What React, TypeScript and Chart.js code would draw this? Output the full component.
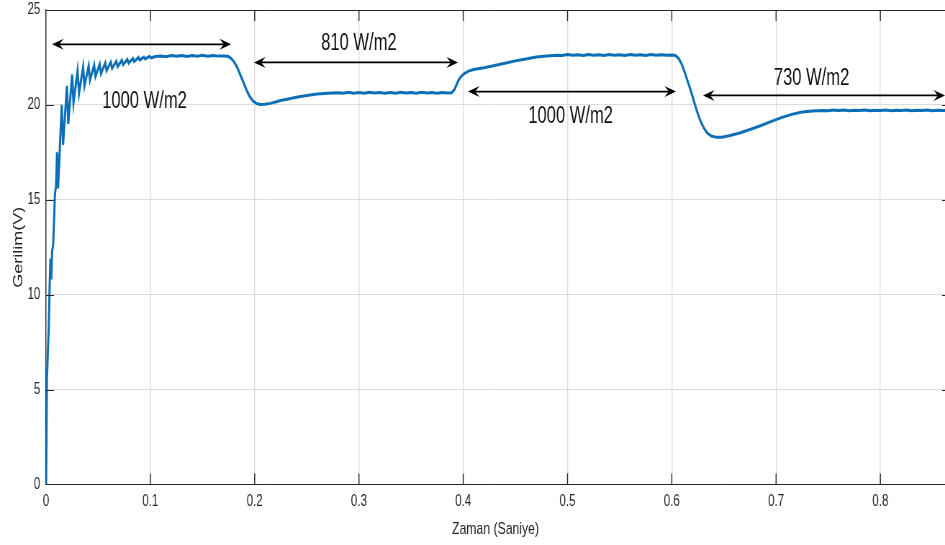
import React, { useEffect, useRef } from 'react';
import { Chart, registerables } from 'chart.js';

Chart.register(...registerables);

// ---------- data (time in s, voltage in V) ----------
const startupTimes = [0, 0.0008, 0.0025, 0.0035, 0.0042, 0.005, 0.0058, 0.0068, 0.0085, 0.0095];
const startupVolts = [0, 5.5, 8.2, 10.6, 11.9, 10.8, 12.3, 12.6, 15.3, 15.7];

const rippleTimes = [0.0105, 0.0115, 0.015, 0.0163, 0.02, 0.0213, 0.025, 0.0263, 0.0302, 0.0316, 0.0355, 0.0368, 0.0408, 0.0421, 0.0461, 0.0474, 0.0514, 0.0527, 0.0567, 0.058, 0.062, 0.0633, 0.0673, 0.0686, 0.0726, 0.0739, 0.0779, 0.0792, 0.0832, 0.0845, 0.0885, 0.0898, 0.0938, 0.0951, 0.099, 0.101];
const rippleVolts = [17.5, 15.6, 20.0, 17.9, 21.0, 19.0, 21.6, 20.1, 21.8, 20.6, 22.0, 21.0, 22.05, 21.3, 22.1, 21.5, 22.15, 21.65, 22.2, 21.8, 22.25, 21.92, 22.3, 22.02, 22.35, 22.12, 22.4, 22.2, 22.45, 22.28, 22.5, 22.36, 22.52, 22.42, 22.55, 22.48];

const plateau1Times = [0.105, 0.11, 0.115, 0.12, 0.125, 0.13, 0.135, 0.14, 0.145, 0.15, 0.155, 0.16, 0.165, 0.17, 0.1745];
const plateau1Volts = [22.55, 22.58, 22.54, 22.6, 22.56, 22.6, 22.55, 22.6, 22.57, 22.61, 22.56, 22.6, 22.57, 22.58, 22.56];

const drop1Times = [0.1775, 0.1805, 0.1835, 0.1865, 0.1895, 0.1925, 0.1955, 0.1985, 0.2015, 0.205, 0.21, 0.215, 0.22, 0.225, 0.231, 0.24, 0.25, 0.26, 0.27, 0.28];
const drop1Volts = [22.45, 22.25, 21.95, 21.55, 21.15, 20.75, 20.42, 20.2, 20.08, 20.02, 20.03, 20.08, 20.15, 20.23, 20.3, 20.4, 20.5, 20.57, 20.62, 20.64];

const plateau2Times = [0.285, 0.29, 0.295, 0.3, 0.305, 0.31, 0.315, 0.32, 0.325, 0.33, 0.335, 0.34, 0.345, 0.35, 0.355, 0.36, 0.365, 0.37, 0.375, 0.38, 0.385, 0.389];
const plateau2Volts = [20.62, 20.66, 20.62, 20.65, 20.62, 20.66, 20.63, 20.65, 20.61, 20.65, 20.62, 20.66, 20.63, 20.65, 20.62, 20.66, 20.63, 20.65, 20.62, 20.65, 20.63, 20.64];

const rise2Times = [0.3915, 0.3935, 0.3955, 0.398, 0.401, 0.405, 0.41, 0.42, 0.43, 0.44, 0.45, 0.46, 0.47, 0.48, 0.49];
const rise2Volts = [20.8, 21.05, 21.3, 21.5, 21.65, 21.78, 21.86, 21.96, 22.08, 22.2, 22.32, 22.42, 22.52, 22.58, 22.62];

const plateau3Times = [0.495, 0.5, 0.505, 0.51, 0.515, 0.52, 0.525, 0.53, 0.535, 0.54, 0.545, 0.55, 0.555, 0.56, 0.565, 0.57, 0.575, 0.58, 0.585, 0.59, 0.595, 0.6, 0.6035];
const plateau3Volts = [22.6, 22.65, 22.61, 22.64, 22.6, 22.65, 22.62, 22.64, 22.6, 22.65, 22.61, 22.64, 22.6, 22.65, 22.62, 22.64, 22.6, 22.65, 22.61, 22.64, 22.62, 22.63, 22.6];

const drop2Times = [0.6065, 0.6095, 0.6125, 0.6155, 0.6185, 0.6215, 0.6245, 0.6275, 0.6305, 0.634, 0.638, 0.643, 0.648, 0.655, 0.665, 0.675, 0.685, 0.695, 0.705, 0.715, 0.725, 0.735, 0.745];
const drop2Volts = [22.45, 22.15, 21.7, 21.2, 20.7, 20.15, 19.6, 19.15, 18.8, 18.52, 18.36, 18.29, 18.3, 18.38, 18.52, 18.7, 18.9, 19.12, 19.33, 19.5, 19.62, 19.68, 19.71];

const plateau4Times = [0.75, 0.755, 0.76, 0.765, 0.77, 0.775, 0.78, 0.785, 0.79, 0.795, 0.8, 0.805, 0.81, 0.815, 0.82, 0.825, 0.83, 0.835, 0.84, 0.845, 0.85, 0.855, 0.86, 0.865];
const plateau4Volts = [19.69, 19.73, 19.7, 19.73, 19.69, 19.72, 19.7, 19.73, 19.69, 19.72, 19.7, 19.73, 19.69, 19.72, 19.7, 19.73, 19.69, 19.72, 19.7, 19.73, 19.69, 19.72, 19.7, 19.71];

// annotations (arrows in data coordinates)
const arrowStarts = [0.0058, 0.1994, 0.4046, 0.63];
const arrowEnds = [0.1774, 0.395, 0.604, 0.862];
const arrowLevels = [23.19, 22.24, 20.7, 20.5];

const labelTexts = ['1000 W/m2', '810 W/m2', '1000 W/m2', '730 W/m2'];
const labelTimes = [0.0944, 0.3, 0.503, 0.734];
const labelLevels = [20.18, 23.21, 19.36, 21.36];

const xTitle = 'Zaman (Saniye)';
const yTitle = 'Gerilim(V)';

// ---------- layout ----------
const SX = 0.72; // horizontal squeeze of the reference picture
const VIEW_W = 945;
const VIEW_H = 545;
const CANVAS_W = Math.round(VIEW_W / SX);
const FONT = '"Liberation Sans", Arial, Helvetica, sans-serif';
const AXIS = '#262626';
const GRID = '#dcdcdc';
const LINE = '#0a6fb6';

const segT = [startupTimes, rippleTimes, plateau1Times, drop1Times, plateau2Times, rise2Times, plateau3Times, drop2Times, plateau4Times];
const segV = [startupVolts, rippleVolts, plateau1Volts, drop1Volts, plateau2Volts, rise2Volts, plateau3Volts, drop2Volts, plateau4Volts];

function buildPoints() {
  const pts: { x: number; y: number }[] = [];
  segT.forEach((ts, s) => {
    const vs = segV[s];
    const n = Math.min(ts.length, vs.length);
    for (let i = 0; i < n; i++) pts.push({ x: ts[i], y: vs[i] });
  });
  return pts;
}

const decorPlugin = {
  id: 'decor',
  afterDatasetsDraw(chart: any) {
    const { ctx, chartArea: a, scales } = chart;
    const xs = scales.x;
    const ys = scales.y;
    ctx.save();
    // top frame line
    ctx.strokeStyle = AXIS;
    ctx.lineWidth = 1;
    ctx.beginPath();
    ctx.moveTo(a.left, Math.round(a.top) + 0.5);
    ctx.lineTo(a.right, Math.round(a.top) + 0.5);
    ctx.stroke();
    // inward x ticks (bottom and top)
    ctx.lineWidth = 1.4;
    ctx.beginPath();
    xs.ticks.forEach((t: any) => {
      if (t.value === 0) return;
      const px = xs.getPixelForValue(t.value);
      ctx.moveTo(px, a.bottom);
      ctx.lineTo(px, a.bottom - 11);
      ctx.moveTo(px, a.top);
      ctx.lineTo(px, a.top + 11);
    });
    ctx.stroke();
    // inward y ticks (left and right)
    ctx.lineWidth = 1;
    ctx.beginPath();
    ys.ticks.forEach((t: any) => {
      if (t.value === 0 || t.value === 25) return;
      const py = Math.round(ys.getPixelForValue(t.value)) + 0.5;
      ctx.moveTo(a.left, py);
      ctx.lineTo(a.left + 11, py);
      ctx.moveTo(a.right, py);
      ctx.lineTo(a.right - 4, py);
    });
    ctx.stroke();

    // double arrows
    const L = 16;
    const H = 5.5;
    ctx.strokeStyle = '#000';
    ctx.fillStyle = '#000';
    ctx.lineWidth = 1.6;
    const head = (tipX: number, y: number, dir: number) => {
      ctx.beginPath();
      ctx.moveTo(tipX, y);
      ctx.lineTo(tipX + dir * L, y - H);
      ctx.lineTo(tipX + dir * L * 0.62, y);
      ctx.lineTo(tipX + dir * L, y + H);
      ctx.closePath();
      ctx.fill();
    };
    arrowStarts.forEach((t0, i) => {
      const x0 = xs.getPixelForValue(t0);
      const x1 = xs.getPixelForValue(arrowEnds[i]);
      const y = ys.getPixelForValue(arrowLevels[i]);
      ctx.beginPath();
      ctx.moveTo(x0 + 4, y);
      ctx.lineTo(x1 - 4, y);
      ctx.stroke();
      head(x0, y, 1);
      head(x1, y, -1);
    });

    // labels
    ctx.font = `23px ${FONT}`;
    ctx.fillStyle = '#111';
    ctx.textAlign = 'center';
    ctx.textBaseline = 'middle';
    labelTexts.forEach((txt, i) => {
      ctx.fillText(txt, xs.getPixelForValue(labelTimes[i]), ys.getPixelForValue(labelLevels[i]));
    });
    ctx.restore();
  },
};

export default function App() {
  const ref = useRef<HTMLCanvasElement | null>(null);
  useEffect(() => {
    if (!ref.current) return;
    const chart = new Chart(ref.current, {
      type: 'line',
      data: {
        datasets: [
          {
            data: buildPoints(),
            borderColor: LINE,
            borderWidth: 3,
            pointRadius: 0,
            tension: 0,
            fill: false,
          },
        ],
      },
      options: {
        animation: false,
        responsive: false,
        maintainAspectRatio: false,
        layout: { padding: { top: 10, left: 0, right: 0, bottom: 0 } },
        plugins: { legend: { display: false }, tooltip: { enabled: false } },
        scales: {
          x: {
            type: 'linear',
            min: 0,
            max: 0.862,
            afterFit: (s: any) => {
              s.height = 60.5;
              s.paddingLeft = 0;
              s.paddingRight = 0;
            },
            ticks: {
              stepSize: 0.1,
              includeBounds: false,
              autoSkip: false,
              maxRotation: 0,
              padding: 7,
              color: AXIS,
              font: { family: FONT, size: 16 },
            },
            grid: { color: GRID, lineWidth: 1.4, drawTicks: false },
            border: { display: true, color: AXIS, width: 1 },
            title: {
              display: true,
              text: xTitle,
              color: AXIS,
              font: { family: FONT, size: 17 },
              padding: { top: 0, bottom: 5 },
            },
          },
          y: {
            type: 'linear',
            min: 0,
            max: 25,
            afterFit: (s: any) => {
              s.width = 64;
              s.paddingTop = 0;
              s.paddingBottom = 0;
            },
            ticks: {
              stepSize: 5,
              padding: 8,
              color: AXIS,
              font: { family: FONT, size: 16 },
            },
            grid: { color: GRID, lineWidth: 1, drawTicks: false },
            border: { display: true, color: AXIS, width: 1.4 },
            title: {
              display: true,
              text: yTitle,
              color: AXIS,
              font: { family: FONT, size: 18 },
              padding: { top: 15, bottom: 0 },
            },
          },
        },
      },
      plugins: [decorPlugin],
    });
    return () => chart.destroy();
  }, []);

  return (
    <div style={{ position: 'absolute', left: 0, top: 0, width: VIEW_W, height: VIEW_H, overflow: 'hidden', background: '#fff' }}>
      <canvas
        ref={ref}
        width={CANVAS_W}
        height={VIEW_H}
        style={{ width: `${VIEW_W}px`, height: `${VIEW_H}px`, display: 'block' }}
      />
    </div>
  );
}
